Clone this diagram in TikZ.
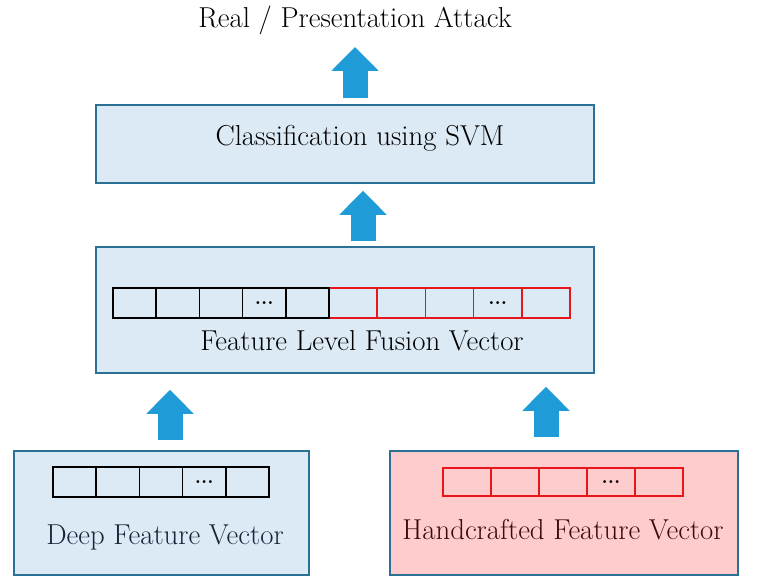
\documentclass[tikz,border=0pt]{standalone}
\usetikzlibrary{arrows.meta}

\definecolor{boxblue}{HTML}{DCEAF6}
\definecolor{boxpink}{HTML}{FFCCCD}
\definecolor{boxline}{HTML}{2C7096}
\definecolor{arrowblue}{HTML}{1F9BD7}
\definecolor{cellred}{HTML}{E8151B}
\definecolor{deeptext}{HTML}{16243A}
\definecolor{handtext}{HTML}{3A0A0C}

\tikzset{
  stagebox/.style={draw=boxline, line width=1.6pt, fill=boxblue, inner sep=0pt},
  label/.style={anchor=base, inner sep=0pt, font=\fontsize{28.8}{34}\selectfont},
  cell/.style={draw, line width=1.5pt, minimum height=30pt, inner sep=0pt},
  dots/.style={inner sep=0pt, font=\fontsize{20}{20}\selectfont\bfseries},
  bigarrow/.style={draw=arrowblue, line width=25pt,
    -{Triangle[width=46pt,length=24pt]}, arrowblue}
}

\begin{document}
\begin{tikzpicture}[x=1pt, y=-1pt]
\useasboundingbox (0,0) rectangle (758,588);

% boxes
\node[stagebox, minimum width=498pt, minimum height=78pt] (cls) at (345,144) {};
\node[stagebox, minimum width=498pt, minimum height=126pt] (fus) at (345,310) {};
\node[stagebox, minimum width=295pt, minimum height=124pt] (deep) at (161.5,513) {};
\node[stagebox, fill=boxpink, minimum width=348pt, minimum height=124pt] (hand) at (564,513) {};

% texts
\node[label] (title) at (355,28) {Real / Presentation Attack};
\node[label] (clstext) at (360,146) {Classification using SVM};
\node[label] (fustext) at (362,350) {Feature Level Fusion Vector};
\node[label, text=deeptext] (deeptext) at (165,544) {Deep Feature Vector};
\node[label, text=handtext] (handtext) at (563,539) {Handcrafted Feature Vector};

% vectors
\foreach \i in {1,...,5} {
  \node[cell, minimum width=43.2pt] (fb\i) at (113+43.2*\i-21.6,303) {};
  \node[cell, draw=cellred, minimum width=48.2pt] (fr\i) at (329+48.2*\i-24.1,303) {};
  \node[cell, minimum width=43.2pt] (db\i) at (53+43.2*\i-21.6,482) {};
  \node[cell, draw=cellred, minimum width=48pt, minimum height=28pt] (hr\i) at (443+48*\i-24,482) {};
}
\foreach \c in {fb4,fr4,db4,hr4}
  \node[dots] (\c dots) at (\c) {...};

% arrows
\draw[bigarrow, shorten >=19pt] ([yshift=6pt]cls.north -| title.base) -- (title.base);
\draw[bigarrow, shorten >=7pt] ([xshift=18pt,yshift=5pt]fus.north) -- ([xshift=18pt]cls.south);
\draw[bigarrow, shorten >=16pt] ([xshift=8.5pt,yshift=10pt]deep.north) -- ([xshift=8.5pt]deep.north |- fus.south);
\draw[bigarrow, shorten >=13pt] ([xshift=-18pt,yshift=13pt]hand.north) -- ([xshift=-18pt]hand.north |- fus.south);
\end{tikzpicture}
\end{document}
